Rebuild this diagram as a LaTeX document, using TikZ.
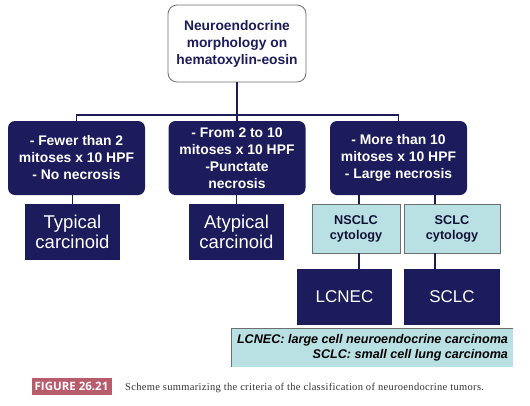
\documentclass[tikz,border=0pt]{standalone}
\usepackage{fontspec}
\setmainfont{Liberation Sans}
\newfontfamily\captionfont[LetterSpace=3]{Liberation Serif}
\newfontfamily\labelfont{Open Sans}
\usepackage{tikz}
\usetikzlibrary{positioning, calc}
\definecolor{navyblue}{HTML}{1C1C5C}
\definecolor{lightcyan}{HTML}{B9E1E4}
\definecolor{boxgray}{HTML}{6E6E6E}
\definecolor{figrose}{HTML}{B85C6C}

\begin{document}
\begin{tikzpicture}[x=1pt, y=-1pt,
    rootbox/.style={draw=boxgray, fill=white, rounded corners=9pt, line width=0.8pt,
        text=navyblue, font=\bfseries\fontsize{13.8}{17}\selectfont, align=center,
        minimum width=138pt, minimum height=77pt, inner sep=0pt},
    critbox/.style={fill=navyblue, rounded corners=7pt, text=white,
        font=\bfseries\fontsize{13.9}{17}\selectfont, align=center,
        minimum width=137pt, minimum height=74pt, inner sep=0pt},
    typebox/.style={fill=navyblue, text=white, font=\fontsize{17}{20}\selectfont,
        align=center, minimum width=95pt, minimum height=56pt, inner sep=0pt},
    cytobox/.style={draw=boxgray, fill=lightcyan, line width=0.8pt, text=navyblue!60!black,
        font=\bfseries\fontsize{12.7}{15}\selectfont, align=center,
        minimum height=49pt, inner sep=0pt},
    link/.style={draw=navyblue, line width=1.6pt}]
    \useasboundingbox (0,0) rectangle (530,405);
    % root
    \node[rootbox] (root) at (237,43.5) {Neuroendocrine\\morphology on\\hematoxylin-eosin};
    % criteria
    \node[critbox] (few) at (76.5,158) {- Fewer than 2\\mitoses x 10 HPF\\- No necrosis};
    \node[critbox] (mid) at (237,158) {- From 2 to 10\\mitoses x 10 HPF\\-Punctate\\necrosis};
    \node[critbox] (many) at (398.5,158) {- More than 10\\mitoses x 10 HPF\\- Large necrosis};
    % results
    \node[typebox, font=\fontsize{18.5}{20}\selectfont] (typical) at (72.5,232) {Typical\\carcinoid};
    \node[typebox, font=\fontsize{18.5}{20}\selectfont] (atypical) at (236.5,232) {Atypical\\carcinoid};
    \node[cytobox, minimum width=88pt] (nscyto) at (356,228.5) {NSCLC\\cytology};
    \node[cytobox, minimum width=96pt] (scyto) at (452,228.5) {SCLC\\cytology};
    \node[typebox] (lcnec) at (344.5,297) {LCNEC};
    \node[typebox, minimum width=96pt] (sclc) at (452,297) {SCLC};
    % legend
    \node[fill=lightcyan, minimum width=281pt, minimum height=38pt, inner sep=0pt] (legend) at (372.5,348) {};
    \draw[boxgray, line width=0.8pt] (legend.south west) -- (legend.north west) -- (legend.north east);
    \node[anchor=east, align=right, text=black, font=\bfseries\itshape\fontsize{12.6}{15}\selectfont,
        inner sep=0pt] (legtext) at ([xshift=-5pt]legend.east)
        {LCNEC: large cell neuroendocrine carcinoma\\SCLC: small cell lung carcinoma};
    % caption
    \node[fill=figrose, text=white, font=\labelfont\bfseries\fontsize{11.5}{12}\selectfont,
        minimum width=80pt, minimum height=17pt, inner sep=0pt] (figlabel) at (71.5,386.5) {FIGURE 26.21};
    \node[anchor=west, inner sep=0pt, font=\captionfont\fontsize{10.5}{11}\selectfont,
        text=black!80] (caption) at (125,388)
        {Scheme summarizing the criteria of the classification of neuroendocrine tumors.};
    % connectors
    \coordinate (bus) at (237,115);
    \coordinate (sline) at (435,0);
    \draw[link] (root.south) -- (bus);
    \draw[link] (few.north) |- (bus) -| (many.north);
    \draw[link] (bus) -- (mid.north);
    \draw[link] (typical.north) -- (typical.north |- few.south);
    \draw[link] (atypical.north) -- (atypical.north |- mid.south);
    \draw[link] ([xshift=3pt]nscyto.north) -- ([xshift=3pt]nscyto.north |- many.south);
    \draw[link] (scyto.north -| sline) -- (many.south -| sline);
    \draw[link] ([xshift=3pt]nscyto.south) -- ([xshift=3pt]nscyto.south |- lcnec.north);
    \draw[link] (scyto.south -| sline) -- (sclc.north -| sline);
\end{tikzpicture}
\end{document}
